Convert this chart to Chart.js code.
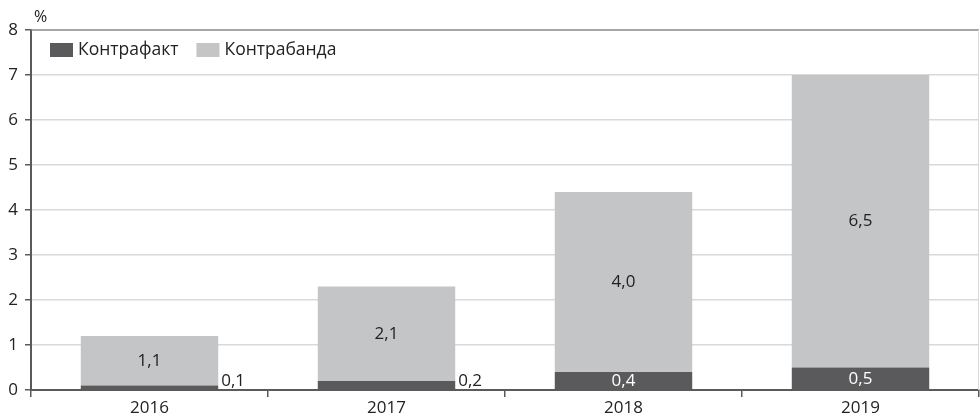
<!DOCTYPE html>
<html>
<head>
<meta charset="utf-8">
<script src="https://cdn.jsdelivr.net/npm/chart.js@4"></script>
<style>
  html, body { margin: 0; padding: 0; background: #fff; }
  #wrap { width: 980px; height: 420px; }
</style>
</head>
<body>
<div id="wrap"><canvas id="chart" width="980" height="420"></canvas></div>
<script>
// Data
const years = ['2016', '2017', '2018', '2019'];
const counterfeit = [0.1, 0.2, 0.4, 0.5];   // Контрафакт
const contraband = [1.1, 2.1, 4.0, 6.5];    // Контрабанда
const yTicks = [0, 1, 2, 3, 4, 5, 6, 7, 8];

const FONT = '"Open Sans", "Noto Sans", sans-serif';
const DARK = '#5a5a5c';
const LIGHT = '#c4c5c7';

function fmt(v) { return v.toFixed(1).replace('.', ','); }

// labels, legend and unit sign drawn over the bars
const overlay = {
    id: 'overlay',
    afterDatasetsDraw(chart) {
        const ctx = chart.ctx;
        const area = chart.chartArea;
        ctx.save();
        ctx.font = '17px ' + FONT;

        chart.data.datasets.forEach((ds, di) => {
            const meta = chart.getDatasetMeta(di);
            meta.data.forEach((bar, i) => {
                const v = ds.data[i];
                const h = bar.base - bar.y;
                if (di === 1) {
                    ctx.fillStyle = '#222';
                    ctx.textAlign = 'center';
                    ctx.textBaseline = 'middle';
                    ctx.fillText(fmt(v), bar.x, (bar.y + bar.base) / 2);
                } else if (h > 15) {
                    ctx.fillStyle = '#fff';
                    ctx.textAlign = 'center';
                    ctx.textBaseline = 'middle';
                    ctx.fillText(fmt(v), bar.x, (bar.y + bar.base) / 2 + 1);
                } else {
                    ctx.fillStyle = '#222';
                    ctx.textAlign = 'left';
                    ctx.textBaseline = 'alphabetic';
                    ctx.fillText(fmt(v), bar.x + bar.width / 2 + 3, bar.base - 3);
                }
            });
        });

        // legend inside the plot
        let x = area.left + 19;
        const y = area.top + 20;
        ctx.textAlign = 'left';
        ctx.textBaseline = 'middle';
        ctx.font = '17.5px ' + FONT;
        chart.data.datasets.forEach(ds => {
            ctx.fillStyle = ds.backgroundColor;
            ctx.fillRect(x, y - 7, 23, 14);
            ctx.fillStyle = '#222';
            ctx.fillText(ds.label, x + 28, y);
            x += 28 + ctx.measureText(ds.label).width + 18;
        });

        // unit
        ctx.font = '16px ' + FONT;
        ctx.textBaseline = 'alphabetic';
        ctx.fillText('%', 34, 22);

        // top border and right edge
        ctx.strokeStyle = '#888';
        ctx.lineWidth = 1.5;
        ctx.beginPath();
        ctx.moveTo(area.left, area.top);
        ctx.lineTo(area.right, area.top);
        ctx.stroke();
        ctx.strokeStyle = '#d9d9d9';
        ctx.lineWidth = 1;
        ctx.beginPath();
        ctx.moveTo(area.right - 0.5, area.top);
        ctx.lineTo(area.right - 0.5, area.bottom);
        ctx.stroke();
        ctx.restore();
    }
};

new Chart(document.getElementById('chart'), {
    type: 'bar',
    data: {
        labels: years,
        datasets: [
            { label: 'Контрафакт', data: counterfeit, backgroundColor: DARK },
            { label: 'Контрабанда', data: contraband, backgroundColor: LIGHT }
        ]
    },
    options: {
        responsive: false,
        animation: false,
        layout: { padding: { top: 30, right: 1, left: 0, bottom: 0 } },
        categoryPercentage: 1.0,
        barPercentage: 0.58,
        plugins: { legend: { display: false }, tooltip: { enabled: false } },
        scales: {
            x: {
                stacked: true,
                afterFit: s => { s.height = 30; },
                grid: { offset: true, drawOnChartArea: false, tickLength: 7, color: DARK, lineWidth: 1.5 },
                border: { color: DARK, width: 2 },
                ticks: { color: '#222', font: { family: FONT, size: 17 }, padding: 1 }
            },
            y: {
                stacked: true,
                min: 0,
                max: 8,
                afterFit: s => { s.width = 31; },
                afterBuildTicks: s => { s.ticks = yTicks.map(v => ({ value: v })); },
                grid: {
                    color: ctx => ctx.tick && ctx.tick.value === 8 ? 'rgba(0,0,0,0)' : '#d9d9d9',
                    tickColor: DARK,
                    tickLength: 6,
                    lineWidth: 1.5
                },
                border: { color: DARK, width: 2 },
                ticks: { color: '#222', font: { family: FONT, size: 17 }, padding: 7 }
            }
        }
    },
    plugins: [overlay]
});
</script>
</body>
</html>
